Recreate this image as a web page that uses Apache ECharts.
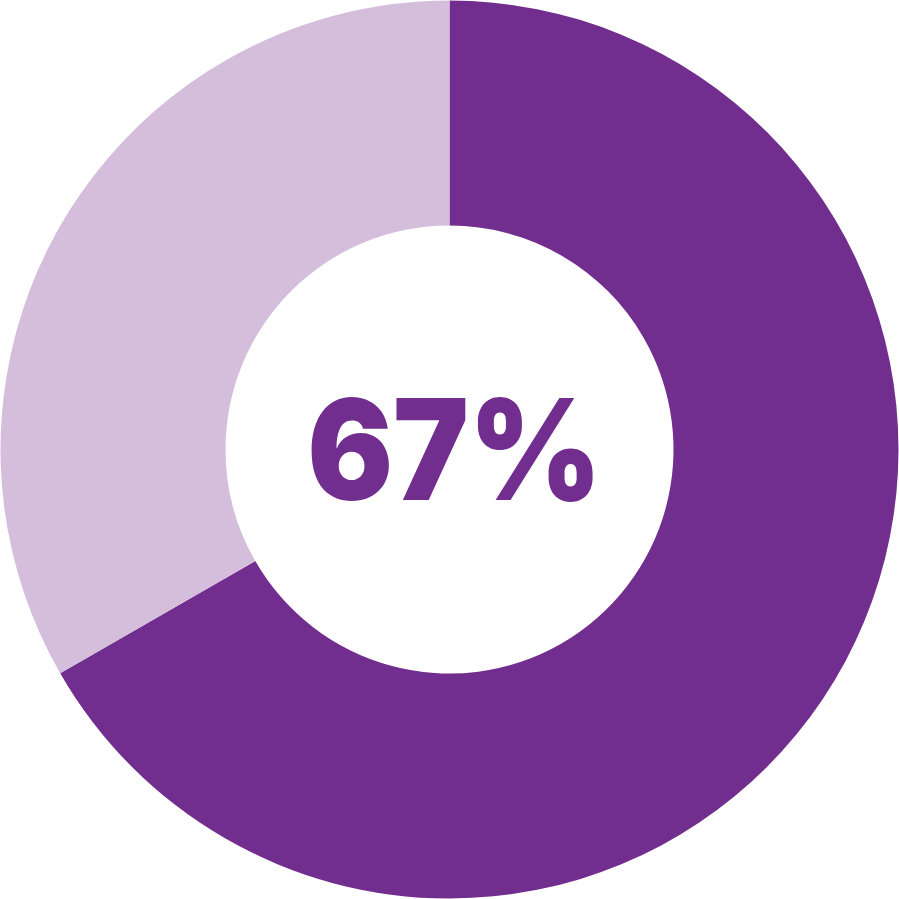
<!DOCTYPE html>
<html>
<head>
<meta charset="utf-8">
<style>html,body{margin:0;padding:0;background:#fff;}#c{width:899px;height:899px;}</style>
<script src="https://cdn.jsdelivr.net/npm/echarts@6/dist/echarts.min.js"></script>
</head>
<body>
<div id="c"></div>
<script>
const categories = ['Yes', 'No'];
const values = [66.7, 33.3];
const colors = ['#722E8E', '#D4BEDC'];
const centerLabel = '67%';

const chart = echarts.init(document.getElementById('c'));
chart.setOption({
  animation: false,
  series: [{
    type: 'pie',
    center: ['50%', '50%'],
    radius: [224, 449],
    startAngle: 90,
    clockwise: true,
    label: { show: false },
    labelLine: { show: false },
    silent: true,
    itemStyle: { borderWidth: 0 },
    data: categories.map((c, i) => ({ name: c, value: values[i], itemStyle: { color: colors[i] } }))
  }],
  graphic: [{
    type: 'text',
    x: 454.5,
    y: 458,
    scaleX: 0.91,
    style: {
      text: centerLabel,
      font: '900 140px Inter',
      fill: colors[0],
      textAlign: 'center',
      textVerticalAlign: 'middle'
    }
  }]
});
</script>
</body>
</html>
